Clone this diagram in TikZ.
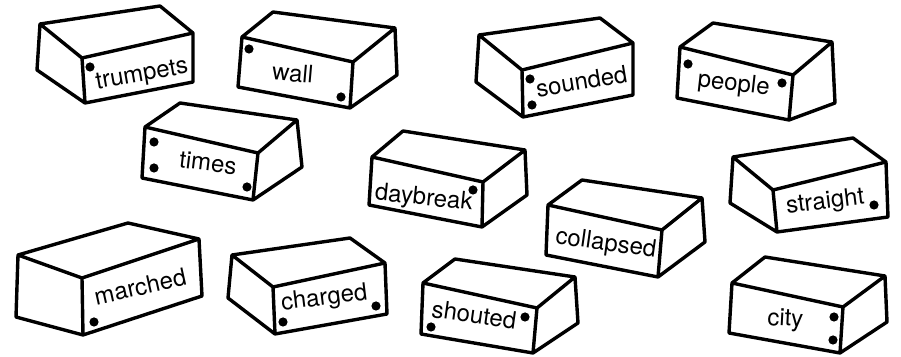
\documentclass[tikz,border=0pt]{standalone}
\usepackage{fontspec}
\setmainfont{TeX Gyre Heros}
\usepackage{tikz}
\tikzset{
  brick/.style={draw=black, line width=1.7pt, line join=round},
  word/.style={font=\fontsize{12}{14}\selectfont, anchor=base, inner sep=0pt},
  hole/.style={circle, fill=black, inner sep=0pt, minimum size=4.6pt}
}

\begin{document}
\begin{tikzpicture}[x=0.5pt, y=-0.5pt]
  \useasboundingbox (0,0) rectangle (901,357);

  % top row
  \draw[brick] (40,24) -- (160,6) -- (193,33) -- (193,82) -- (85,103) -- (37,70) -- cycle
    (40,24) -- (82,58) -- (193,33) (82,58) -- (85,103);
  \node[word, rotate=10] (trumpets) at (143,81) {trumpets};
  \node[hole] (trumpets-a) at (90,67) {};

  \draw[brick] (242,37) -- (273,12) -- (395,28) -- (397,75) -- (350,108) -- (238,87) -- cycle
    (242,37) -- (353,62) -- (395,28) (353,62) -- (350,108);
  \node[word, rotate=-5] (wall) at (292,81.5) {wall};
  \node[hole] (wall-a) at (249,49) {};
  \node[hole] (wall-b) at (341,97) {};

  \draw[brick] (479,35) -- (600,18) -- (633,43) -- (633,95) -- (523,117) -- (476,82) -- cycle
    (479,35) -- (522,70) -- (633,43) (522,70) -- (523,117);
  \node[word, rotate=9.5] (sounded) at (583,89.5) {sounded};
  \node[hole] (sounded-a) at (530,79) {};
  \node[hole] (sounded-b) at (532,105) {};

  \draw[brick] (680,47) -- (713,23) -- (832,42) -- (835,103) -- (789,120) -- (677,98) -- cycle
    (680,47) -- (793,75) -- (832,42) (793,75) -- (789,120);
  \node[word, rotate=-6.5] (people) at (733,91) {people};
  \node[hole] (people-a) at (688,64) {};
  \node[hole] (people-b) at (782,83) {};

  % middle row
  \draw[brick] (145,127) -- (180,103) -- (297,120) -- (302,167) -- (253,200) -- (142,178) -- cycle
    (145,127) -- (258,153) -- (297,120) (258,153) -- (253,200);
  \node[word, rotate=-7] (times) at (207,171) {times};
  \node[hole] (times-a) at (154,142) {};
  \node[hole] (times-b) at (154,168) {};
  \node[hole] (times-c) at (247,187) {};

  \draw[brick] (372,157) -- (403,131) -- (525,150) -- (527,195) -- (482,227) -- (369,205) -- cycle
    (372,157) -- (483,182) -- (525,150) (483,182) -- (482,227);
  \node[word, rotate=-6] (daybreak) at (423,205) {daybreak};
  \node[hole] (daybreak-a) at (473,190) {};

  \draw[brick] (548,205) -- (582,180) -- (702,198) -- (705,242) -- (658,277) -- (546,255) -- cycle
    (548,205) -- (662,230) -- (702,198) (662,230) -- (658,277);
  \node[word, rotate=-8] (collapsed) at (605,250.5) {collapsed};

  \draw[brick] (733,157) -- (853,138) -- (886,162) -- (888,217) -- (777,232) -- (730,203) -- cycle
    (733,157) -- (773,190) -- (886,162) (773,190) -- (777,232);
  \node[word, rotate=7] (straight) at (826,208.5) {straight};
  \node[hole] (straight-a) at (874,205) {};

  % bottom row
  \draw[brick] (18,255) -- (128,223) -- (199,239) -- (202,296) -- (83,335) -- (16,317) -- cycle
    (18,255) -- (82,278) -- (199,239) (82,278) -- (83,335);
  \node[word, rotate=12.5] (marched) at (142,295) {marched};
  \node[hole] (marched-a) at (94,322) {};

  \draw[brick] (232,255) -- (350,238) -- (385,263) -- (387,314) -- (275,334) -- (228,298) -- cycle
    (232,255) -- (273,287) -- (385,263) (273,287) -- (275,334);
  \node[word, rotate=7] (charged) at (325,305) {charged};
  \node[hole] (charged-a) at (283,322) {};
  \node[hole] (charged-b) at (376,306) {};

  \draw[brick] (423,283) -- (455,259) -- (575,277) -- (578,323) -- (533,353) -- (421,334) -- cycle
    (423,283) -- (537,308) -- (575,277) (537,308) -- (533,353);
  \node[word, rotate=-8] (shouted) at (473,323) {shouted};
  \node[hole] (shouted-a) at (431,327) {};
  \node[hole] (shouted-b) at (525,317) {};

  \draw[brick] (732,283) -- (765,257) -- (885,276) -- (887,322) -- (840,353) -- (729,333) -- cycle
    (732,283) -- (843,307) -- (885,276) (843,307) -- (840,353);
  \node[word, rotate=-3] (city) at (785,326) {city};
  \node[hole] (city-a) at (834,317) {};
  \node[hole] (city-b) at (833,340) {};
\end{tikzpicture}
\end{document}
